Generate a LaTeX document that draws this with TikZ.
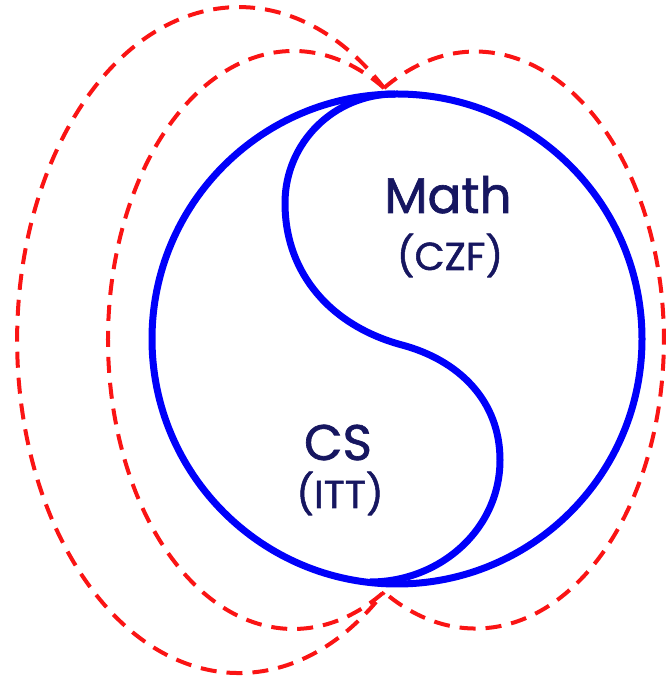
\documentclass[tikz,border=0pt]{standalone}
\usepackage{fontspec}
\newfontfamily\geofont{Poppins}[UprightFeatures={FakeBold=1.3}]
\usepackage{tikz}
\usetikzlibrary{positioning,calc}
\usepackage{xcolor}
\definecolor{inkblue}{RGB}{0,0,250}
\definecolor{fieldred}{RGB}{250,20,20}
\definecolor{labelnavy}{RGB}{22,22,96}

\begin{document}
\begin{tikzpicture}[x=1pt, y=1pt,
    bound/.style={draw=inkblue, line width=7pt},
    field/.style={draw=fieldred, line width=4pt, dash pattern=on 16pt off 10pt},
    biglbl/.style={font=\geofont\fontsize{50}{56}\selectfont, text=labelnavy, anchor=base, inner sep=0pt},
    smalllbl/.style={font=\geofont\fontsize{39}{44}\selectfont, text=labelnavy, anchor=base, inner sep=0pt}]
    \useasboundingbox (0,0) rectangle (665,683);

    % --- Points where the dashed lobes meet ---
    \coordinate (ptop) at (384,595);
    \coordinate (pbot) at (384,91);

    % --- Dashed lobes (outer left, inner left, right) ---
    \draw[field] (ptop) arc[start angle=49.2, end angle=310.8, x radius=221.9pt, y radius=333pt];
    \draw[field] (ptop) arc[start angle=60.7, end angle=299.3, x radius=185.3pt, y radius=289pt];
    \draw[field] (ptop) arc[start angle=119.1, end angle=-119.1, x radius=188.3pt, y radius=288.5pt];

    % --- Outer circle ---
    \draw[bound] (397,344) circle[radius=245pt];

    % --- S-shaped divide ---
    \coordinate (stop) at (395,589);
    \coordinate (sleft) at (285,480);
    \coordinate (smid) at (402,338);
    \coordinate (sright) at (500,223);
    \coordinate (sbot) at (370,101);
    \draw[bound] (stop) to[out=180, in=90] (sleft)
        to[out=-90, in=165] (smid)
        to[out=-15, in=90] (sright)
        to[out=-90, in=0] (sbot);

    % --- Labels ---
    \node[biglbl] (math) at (448,470) {Math};
    \node[smalllbl] (czf) at (450,413) {(CZF)};
    \node[biglbl] (cs) at (338,223) {CS};
    \node[smalllbl] (itt) at (340,175) {(ITT)};
\end{tikzpicture}
\end{document}
